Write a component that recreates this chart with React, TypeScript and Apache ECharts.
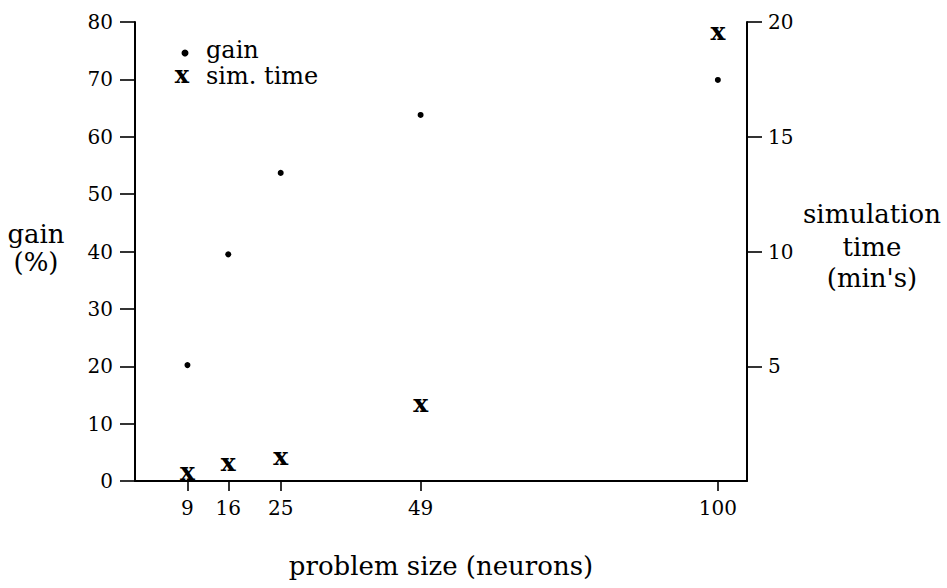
import React, { useEffect, useRef } from "react";
import * as echarts from "echarts";

const xTicks = [9, 16, 25, 49, 100];
const gainX = [9, 16, 25, 49, 100];
const gainValues = [20.2, 39.5, 53.7, 63.8, 69.9];
const timeX = [9, 16, 25, 49, 100];
const timeValues = [0.33, 0.74, 0.98, 3.3, 19.5];
const rightTicks = [5, 10, 15, 20];

const FONT = "'DejaVu Serif', 'Liberation Serif', serif";
const TXT = 26;
const TICK = 20;

export default function App() {
  const ref = useRef<HTMLDivElement>(null);
  useEffect(() => {
    if (!ref.current) return;
    const chart = echarts.init(ref.current, undefined, { renderer: "svg" });
    const axisLine = { show: true, lineStyle: { color: "#000", width: 2 } };
    const tickStyle = { color: "#000", width: 1.6 };
    const txt = (x: number, y: number, text: string, align: string, font: string, lh = 22) => ({
      type: "text",
      style: { x, y, text, font, fill: "#000", align, verticalAlign: "middle", lineHeight: lh },
    });
    chart.setOption({
      animation: false,
      backgroundColor: "#fff",
      grid: { left: 135, right: 200, top: 22, bottom: 107, containLabel: false },
      xAxis: {
        type: "value",
        min: 0,
        max: 105,
        axisLine: { ...axisLine, onZero: false },
        axisTick: { show: true, length: 10, customValues: xTicks, lineStyle: tickStyle },
        axisLabel: { customValues: xTicks, color: "#000", fontFamily: FONT, fontSize: TICK, margin: 17 },
        splitLine: { show: false },
        name: "problem size (neurons)",
        nameLocation: "middle",
        nameGap: 72,
        nameTextStyle: { color: "#000", fontFamily: FONT, fontSize: TXT },
      },
      yAxis: [
        {
          type: "value",
          min: 0,
          max: 80,
          interval: 10,
          position: "left",
          axisLine,
          axisTick: { show: true, length: 15, lineStyle: tickStyle },
          axisLabel: { color: "#000", fontFamily: FONT, fontSize: TICK, margin: 22 },
          splitLine: { show: false },
        },
        {
          type: "value",
          min: 0,
          max: 20,
          position: "right",
          axisLine,
          axisTick: { show: true, length: 15, customValues: rightTicks, lineStyle: tickStyle },
          axisLabel: { customValues: rightTicks, color: "#000", fontFamily: FONT, fontSize: TICK, margin: 21 },
          splitLine: { show: false },
        },
      ],
      series: [
        {
          name: "gain",
          type: "scatter",
          yAxisIndex: 0,
          symbol: "circle",
          symbolSize: 6,
          itemStyle: { color: "#000", opacity: 1 },
          data: gainX.map((x, i) => [x, gainValues[i]]),
        },
        {
          name: "sim. time",
          type: "scatter",
          yAxisIndex: 1,
          symbol: "circle",
          symbolSize: 1,
          itemStyle: { color: "rgba(0,0,0,0)", opacity: 1 },
          label: {
            show: true,
            position: "inside",
            formatter: "x",
            color: "#000",
            opacity: 1,
            textBorderWidth: 0,
            fontFamily: FONT,
            fontWeight: "bold",
            fontSize: 25,
            offset: [0, -2],
          },
          data: timeX.map((x, i) => [x, timeValues[i]]),
        },
      ],
      graphic: [
        { type: "circle", shape: { cx: 185, cy: 53, r: 3.5 }, style: { fill: "#000" } },
        txt(182, 74, "x", "center", `bold 24px ${FONT}`),
        txt(206, 50, "gain", "left", `24px ${FONT}`),
        txt(206, 75.5, "sim. time", "left", `24px ${FONT}`),
        txt(36, 234, "gain", "center", `${TXT}px ${FONT}`),
        txt(36, 262, "(%)", "center", `${TXT}px ${FONT}`),
        txt(872, 214, "simulation", "center", `${TXT}px ${FONT}`),
        txt(872, 247, "time", "center", `${TXT}px ${FONT}`),
        txt(872, 278, "(min's)", "center", `${TXT}px ${FONT}`),
      ],
    });
    return () => chart.dispose();
  }, []);
  return <div ref={ref} style={{ position: "fixed", left: 0, top: 0, width: 947, height: 588 }} />;
}
